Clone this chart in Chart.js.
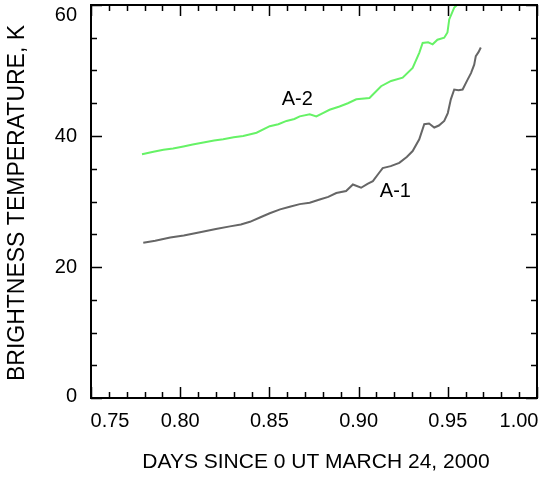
<!DOCTYPE html>
<html>
<head>
<meta charset="utf-8">
<script src="https://cdn.jsdelivr.net/npm/chart.js@4.4.1/dist/chart.umd.min.js"></script>
<style>
  html, body { margin: 0; padding: 0; background: #fff; }
  #wrap { width: 543px; height: 477px; }
</style>
</head>
<body>
<div id="wrap"><canvas id="grafico" width="543" height="477"></canvas></div>
<script>
// A-1 (gray) and A-2 (green), days since 0 UT March 24, 2000 vs brightness temperature (K)
const a1Days = [0.7793, 0.7860, 0.7944, 0.8020, 0.8111, 0.8200, 0.8279, 0.8340, 0.8391, 0.8450,
                0.8502, 0.8560, 0.8614, 0.8670, 0.8726, 0.8782, 0.8830, 0.8875, 0.8930, 0.8968,
                0.9014, 0.9050, 0.9080, 0.9110, 0.9135, 0.9180, 0.9228, 0.9270, 0.9303, 0.9340,
                0.9368, 0.9395, 0.9424, 0.9450, 0.9480, 0.9500, 0.9517, 0.9536, 0.9560, 0.9583,
                0.9611, 0.9630, 0.9648, 0.9657, 0.9672, 0.9685];
const a1Temp = [23.7, 24.0, 24.5, 24.8, 25.3, 25.8, 26.2, 26.5, 26.9, 27.6,
                28.2, 28.8, 29.2, 29.6, 29.8, 30.3, 30.7, 31.3, 31.6, 32.6,
                32.1, 32.7, 33.1, 34.2, 35.1, 35.4, 35.9, 36.8, 37.7, 39.5,
                41.8, 41.9, 41.3, 41.6, 42.3, 43.5, 45.6, 47.1, 47.0, 47.1,
                48.6, 49.6, 50.9, 52.2, 52.8, 53.5];

const a2Days = [0.7786, 0.7850, 0.7906, 0.7960, 0.8018, 0.8070, 0.8130, 0.8190, 0.8241, 0.8300,
                0.8353, 0.8428, 0.8502, 0.8550, 0.8596, 0.8640, 0.8670, 0.8726, 0.8763, 0.8800,
                0.8837, 0.8893, 0.8940, 0.8987, 0.9061, 0.9126, 0.9182, 0.9247, 0.9303, 0.9340,
                0.9359, 0.9390, 0.9415, 0.9442, 0.9480, 0.9498, 0.9508, 0.9536, 0.9564, 0.9580];
const a2Temp = [37.2, 37.6, 37.9, 38.1, 38.4, 38.7, 39.0, 39.3, 39.5, 39.8,
                40.0, 40.5, 41.5, 41.8, 42.3, 42.6, 43.0, 43.3, 43.0, 43.5,
                44.0, 44.5, 45.0, 45.6, 45.8, 47.6, 48.4, 48.9, 50.4, 52.7,
                54.2, 54.3, 54.0, 54.7, 55.0, 55.8, 57.8, 59.6, 60.3, 61.5];

const xTickLabels = ['0.75', '0.80', '0.85', '0.90', '0.95', '1.00'];
const yTickLabels = ['0', '20', '40', '60'];

const curveLabels = [
    { text: 'A-2', x: 0.8656, y: 45.6 },
    { text: 'A-1', x: 0.9206, y: 31.6 }
];

const FONT = '"Liberation Sans", Arial, Helvetica, sans-serif';

function toPoints(xs, ys) {
    return xs.map((x, i) => ({ x: x, y: ys[i] }));
}

const marcoPlugin = {
    id: 'marco',
    afterDraw(chart) {
        const ctx = chart.ctx;
        const xs = chart.scales.x;
        const ys = chart.scales.y;
        const a = chart.chartArea;
        ctx.save();

        // frame
        ctx.strokeStyle = '#000';
        ctx.lineWidth = 2;
        ctx.strokeRect(a.left, a.top, a.right - a.left, a.bottom - a.top);

        // ticks, pointing inward on all four sides
        ctx.lineWidth = 1.5;
        ctx.beginPath();
        for (let i = 0; i <= 25; i++) {
            const v = 0.75 + i * 0.01;
            const px = Math.round(xs.getPixelForValue(v)) + 0.5;
            const len = (i % 5 === 0) ? 11 : 6;
            ctx.moveTo(px, a.bottom); ctx.lineTo(px, a.bottom - len);
            ctx.moveTo(px, a.top); ctx.lineTo(px, a.top + len);
        }
        for (let i = 0; i <= 12; i++) {
            const v = i * 5;
            const py = Math.round(ys.getPixelForValue(v)) + 0.5;
            const len = (i % 4 === 0) ? 11 : 6;
            ctx.moveTo(a.left, py); ctx.lineTo(a.left + len, py);
            ctx.moveTo(a.right, py); ctx.lineTo(a.right - len, py);
        }
        ctx.stroke();

        // tick labels
        ctx.fillStyle = '#000';
        ctx.font = '20px ' + FONT;
        ctx.textAlign = 'center';
        ctx.textBaseline = 'middle';
        xTickLabels.forEach((t, i) => {
            let px = xs.getPixelForValue(parseFloat(t));
            if (i === 0) px += 19;
            if (i === xTickLabels.length - 1) px -= 18;
            ctx.fillText(t, px, a.bottom + 23);
        });
        ctx.textAlign = 'right';
        yTickLabels.forEach((t, i) => {
            let py = ys.getPixelForValue(parseFloat(t));
            if (i === yTickLabels.length - 1) py += 10;
            if (i === 0) py -= 2;
            ctx.fillText(t, a.left - 14, py);
        });

        // axis titles
        ctx.textAlign = 'center';
        ctx.font = '21px ' + FONT;
        ctx.fillText('DAYS SINCE 0 UT MARCH 24, 2000', 316, 462);
        ctx.save();
        ctx.translate(18, 203);
        ctx.rotate(-Math.PI / 2);
        ctx.font = '23px ' + FONT;
        ctx.fillText('BRIGHTNESS TEMPERATURE, K', 0, 0);
        ctx.restore();

        // curve labels
        ctx.font = '20px ' + FONT;
        curveLabels.forEach(l => {
            ctx.fillText(l.text, xs.getPixelForValue(l.x), ys.getPixelForValue(l.y));
        });

        ctx.restore();
    }
};

window.onload = function () {
    const ctx = document.getElementById('grafico').getContext('2d');

    new Chart(ctx, {
        type: 'line',
        data: {
            datasets: [
                {
                    label: 'A-1',
                    data: toPoints(a1Days, a1Temp),
                    borderColor: '#666666',
                    borderWidth: 2,
                    pointRadius: 0,
                    fill: false,
                    tension: 0
                },
                {
                    label: 'A-2',
                    data: toPoints(a2Days, a2Temp),
                    borderColor: '#66f266',
                    borderWidth: 2,
                    pointRadius: 0,
                    fill: false,
                    tension: 0
                }
            ]
        },
        options: {
            responsive: false,
            animation: false,
            events: [],
            layout: { padding: { top: 5, right: 6, left: 0, bottom: 0 } },
            plugins: {
                legend: { display: false },
                tooltip: { enabled: false },
                title: { display: false }
            },
            scales: {
                x: {
                    type: 'linear',
                    min: 0.75,
                    max: 1.0,
                    grid: { display: false },
                    border: { display: false },
                    ticks: { display: false },
                    afterFit: s => { s.height = 79; }
                },
                y: {
                    type: 'linear',
                    min: 0,
                    max: 60,
                    grid: { display: false },
                    border: { display: false },
                    ticks: { display: false },
                    afterFit: s => { s.width = 91; }
                }
            }
        },
        plugins: [marcoPlugin]
    });
};
</script>
</body>
</html>
